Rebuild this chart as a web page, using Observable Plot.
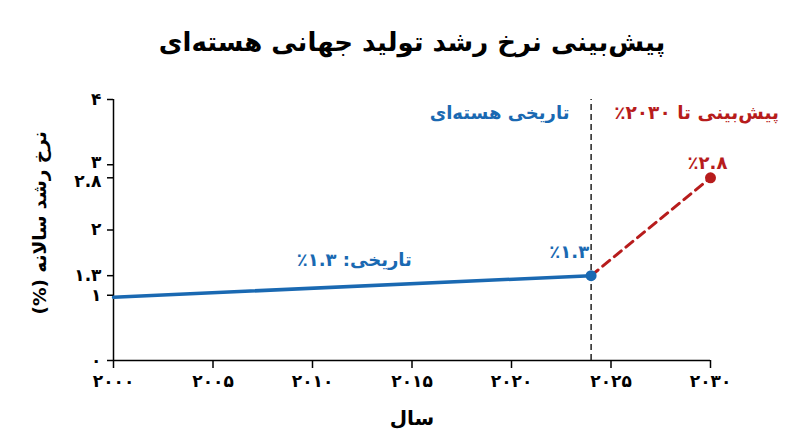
<!DOCTYPE html>
<html><head><meta charset="utf-8">
<script src="https://cdn.jsdelivr.net/npm/d3@7"></script>
<script src="https://cdn.jsdelivr.net/npm/@observablehq/plot@0.6"></script>
<style>
body{margin:0;background:#fff;}
#chart svg{display:block;}
</style></head><body><div id="chart"></div>
<script>
// ---- data ----
const historicalYears = [2000, 2024];
const historicalRates = [0.97, 1.3];
const forecastYears = [2024, 2030];
const forecastRates = [1.3, 2.8];
const splitYear = [2024];
const yTicks = [0, 1, 1.3, 2, 4];
const yTickThree = [3];
const yTickForecast = [2.8];
const xTicks = [2000, 2005, 2010, 2015, 2020, 2025, 2030];
const titleText = "پیش‌بینی نرخ رشد تولید جهانی هسته‌ای";
const yLabel = "نرخ رشد سالانه (%)";
const xLabel = "سال";
const histLabel = "تاریخی هسته‌ای";
const foreLabel = "پیش‌بینی تا ۲۰۳۰٪";
const histRateLabel = "تاریخی: ۱.۳٪";
const endHistLabel = "٪۱.۳";
const endForeLabel = "٪۲.۸";

const fa = s => String(s).replace(/\d/g, d => "۰۱۲۳۴۵۶۷۸۹"[d]);
const BLUE = "#1a69b2", RED = "#b71c1c";

const hist = historicalYears.map((y, i) => ({year: y, rate: historicalRates[i]}));
const fore = forecastYears.map((y, i) => ({year: y, rate: forecastRates[i]}));

const yAxisOpts = {tickSize: 6, tickPadding: 6, tickFormat: fa, label: null, strokeWidth: 1.5};

const chart = Plot.plot({
  width: 800, height: 447,
  marginLeft: 113, marginRight: 90, marginTop: 99, marginBottom: 87,
  style: {fontFamily: "'DejaVu Sans', sans-serif", fontSize: "17px", fontWeight: "bold", background: "white", overflow: "visible", color: "black"},
  x: {domain: [2000, 2030]},
  y: {domain: [0, 4]},
  marks: [
    Plot.axisY(yTicks, yAxisOpts),
    Plot.axisY(yTickThree, {...yAxisOpts, textStroke: "white", textStrokeWidth: 0}),
    Plot.axisY(yTickForecast, yAxisOpts),
    Plot.axisX(xTicks, {tickSize: 8, tickPadding: 6, tickFormat: fa, label: null, strokeWidth: 1.5}),
    Plot.ruleY([0], {x1: 2000, x2: 2030, stroke: "black", strokeWidth: 1.5}),
    Plot.ruleX([2000], {y1: 0, y2: 4, stroke: "black", strokeWidth: 1.5}),
    Plot.ruleX(splitYear, {y1: 0, y2: 4, stroke: "black", strokeWidth: 1.3, strokeDasharray: "6,4"}),
    Plot.line(hist, {x: "year", y: "rate", stroke: BLUE, strokeWidth: 3.5}),
    Plot.line(fore, {x: "year", y: "rate", stroke: RED, strokeWidth: 3, strokeDasharray: "9,6"}),
    Plot.dot(hist.slice(-1), {x: "year", y: "rate", r: 5.5, fill: BLUE}),
    Plot.dot(fore.slice(-1), {x: "year", y: "rate", r: 5.5, fill: RED}),
    Plot.text([histLabel], {text: d => d, x: 2019.4, y: 3.79, fill: BLUE, fontSize: 18}),
    Plot.text([foreLabel], {text: d => d, x: 2029.3, y: 3.79, fill: RED, fontSize: 18.5}),
    Plot.text([histRateLabel], {text: d => d, x: 2012.1, y: 1.53, fill: BLUE, fontSize: 18}),
    Plot.text([endHistLabel], {text: d => d, x: 2022.9, y: 1.66, fill: BLUE, fontSize: 18}),
    Plot.text([endForeLabel], {text: d => d, x: 2029.85, y: 3.03, fill: RED, fontSize: 18}),
    Plot.text([titleText], {text: d => d, frameAnchor: "top", lineAnchor: "middle", dy: -57, fontSize: 26, fill: "black"}),
    Plot.text([yLabel], {text: d => d, frameAnchor: "left", textAnchor: "middle", lineAnchor: "middle", dx: -73, dy: -7, rotate: -90, fontSize: 18.5, fill: "black"}),
    Plot.text([xLabel], {text: d => d, frameAnchor: "bottom", lineAnchor: "middle", dy: 58, fontSize: 20, fill: "black"})
  ]
});
chart.querySelectorAll('g[aria-label="text"] text').forEach(t => t.setAttribute("direction", "rtl"));
// nudge the two crowded y tick labels apart, as in the reference
const tickLabelGroups = chart.querySelectorAll('g[aria-label="y-axis tick label"]');
if (tickLabelGroups[1]) tickLabelGroups[1].setAttribute("transform", (tickLabelGroups[1].getAttribute("transform") || "") + " translate(0,-2)");
if (tickLabelGroups[2]) tickLabelGroups[2].setAttribute("transform", (tickLabelGroups[2].getAttribute("transform") || "") + " translate(0,4)");
document.getElementById("chart").append(chart);
</script></body></html>
